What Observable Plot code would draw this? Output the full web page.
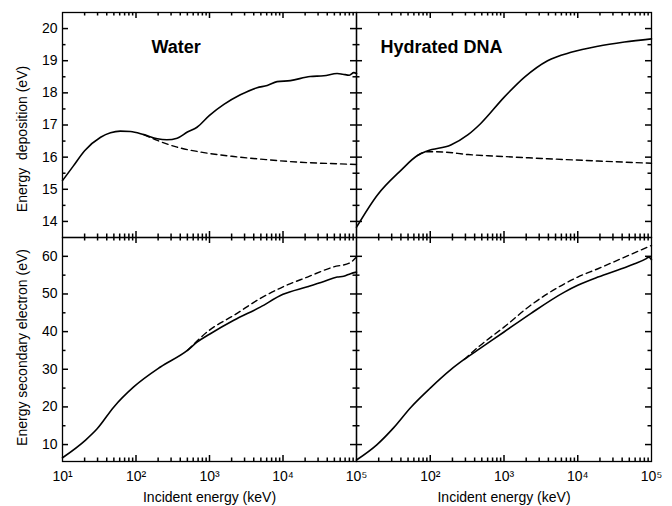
<!DOCTYPE html>
<html>
<head>
<meta charset="utf-8">
<script src="https://cdn.jsdelivr.net/npm/d3@7"></script>
<script src="https://cdn.jsdelivr.net/npm/@observablehq/plot@0.6"></script>
<style>
  body { margin: 0; background: #fff; }
  #chart { position: relative; width: 672px; height: 506px; background: #fff; font-family: "Liberation Sans", Arial, sans-serif; }
  #chart svg { position: absolute; left: 0; top: 0; }
</style>
</head>
<body>
<div id="chart"></div>
<script>
// ---------- Data ----------
// Water – energy deposition (eV)
const waterDepSolidX = [10, 14, 20, 33, 45, 61, 84, 128, 195, 263, 363, 500, 676, 1000, 1570, 2630, 4440, 6100, 8300, 12600, 23400, 35900, 54500, 65000, 80000, 92000, 100000];
const waterDepSolidY = [15.27, 15.72, 16.2, 16.62, 16.76, 16.81, 16.8, 16.70, 16.57, 16.54, 16.59, 16.78, 16.93, 17.30, 17.64, 17.94, 18.16, 18.23, 18.35, 18.38, 18.51, 18.53, 18.60, 18.58, 18.55, 18.63, 18.60];
const waterDepDashX = [128, 195, 363, 750, 2140, 6100, 17400, 60000, 100000];
const waterDepDashY = [16.70, 16.52, 16.31, 16.16, 16.02, 15.92, 15.84, 15.79, 15.77];
// Hydrated DNA – energy deposition (eV)
const dnaDepSolidX = [10, 19, 40, 67, 91, 190, 326, 480, 1000, 1900, 3900, 8100, 18800, 43000, 100000];
const dnaDepSolidY = [13.82, 14.81, 15.59, 16.05, 16.19, 16.38, 16.70, 17.04, 17.86, 18.49, 19.0, 19.26, 19.45, 19.58, 19.68];
const dnaDepDashX = [67, 91, 150, 326, 810, 3900, 18800, 100000];
const dnaDepDashY = [16.05, 16.17, 16.16, 16.08, 16.03, 15.95, 15.88, 15.81];
// Water – energy of secondary electron (eV)
const waterSecSolidX = [10, 20.6, 29.6, 50, 93, 215, 500, 676, 1000, 2140, 4900, 10000, 21500, 36000, 54600, 67000, 83000, 100000];
const waterSecSolidY = [6.5, 11.2, 14.2, 20.0, 25.3, 30.6, 35.0, 37.2, 39.3, 43.0, 46.5, 49.9, 51.9, 53.3, 54.5, 54.7, 55.4, 55.8];
const waterSecDashX = [500, 1000, 2140, 4900, 10000, 21500, 49000, 80000, 100000];
const waterSecDashY = [35.0, 40.4, 44.3, 48.8, 51.9, 54.5, 57.2, 58.2, 59.8];
// Hydrated DNA – energy of secondary electron (eV)
const dnaSecSolidX = [10, 19, 32, 54, 100, 190, 288, 480, 1000, 2300, 6600, 10000, 18800, 39000, 59000, 85000, 92000, 100000];
const dnaSecSolidY = [5.9, 10.0, 14.5, 19.8, 25.0, 29.9, 32.6, 35.6, 39.9, 44.8, 50.5, 52.3, 54.5, 56.7, 58.0, 59.4, 59.8, 59.1];
const dnaSecDashX = [288, 480, 1000, 2300, 6600, 10000, 18800, 39000, 100000];
const dnaSecDashY = [32.6, 36.4, 41.2, 47.0, 52.7, 54.5, 56.7, 59.4, 62.9];

// Axis ticks and labels
const xDecades = [10, 100, 1000, 10000, 100000];
const xMinor = [2, 3, 4, 5, 6, 7, 8, 9];
const depMajor = [14, 15, 16, 17, 18, 19, 20];
const depMinor = [14.5, 15.5, 16.5, 17.5, 18.5, 19.5];
const secMajor = [10, 20, 30, 40, 50, 60];
const secMinor = [15, 25, 35, 45, 55];
const titles = ["Water", "Hydrated DNA"];
const yLabels = ["Energy  deposition (eV)", "Energy secondary electron (eV)"];
const xLabel = "Incident energy (keV)";

// ---------- Helpers ----------
const zip = (xs, ys) => xs.map((x, i) => ({x, y: ys[i]}));
const sup = {1: "\u00B9", 2: "\u00B2", 3: "\u00B3", 4: "\u2074", 5: "\u2075"};
const fmtPow = d => "10" + sup[Math.round(Math.log10(d))];
const minorX = xDecades.slice(0, -1).flatMap(d => xMinor.map(k => d * k));
const innerDecades = xDecades.slice(1, -1);

const W = 672, H = 506;
const xL = [62, 356, 651];
const yT = [12, 237, 461];
const FONT = "'Liberation Sans', Arial, sans-serif";

// inward tick marks drawn with tickX / tickY, shortened to a few pixels by insets
function inTicks(values, side, len, pw, ph) {
  const o = {stroke: "black", strokeWidth: 1.5};
  if (side === "left") return Plot.tickY(values, {y: d => d, insetRight: pw - len, ...o});
  if (side === "right") return Plot.tickY(values, {y: d => d, insetLeft: pw - len, ...o});
  if (side === "bottom") return Plot.tickX(values, {x: d => d, insetTop: ph - len, ...o});
  return Plot.tickX(values, {x: d => d, insetBottom: ph - len, ...o});
}

function panel({col, row, solid, dashed, yDomain, yMajor, yMinor, title}) {
  const x0 = xL[col], x1 = xL[col + 1], y0 = yT[row], y1 = yT[row + 1];
  const pw = x1 - x0, ph = y1 - y0;
  const marks = [
    Plot.line(dashed, {x: "x", y: "y", stroke: "black", strokeWidth: 1.4, strokeDasharray: "6,4", curve: "monotone-x"}),
    Plot.line(solid, {x: "x", y: "y", stroke: "black", strokeWidth: 1.6, curve: "monotone-x"}),
    Plot.frame({stroke: "black", strokeWidth: 1.3}),
    inTicks(yMajor, "left", 6, pw, ph), inTicks(yMinor, "left", 3.5, pw, ph),
    inTicks(yMajor, "right", 6, pw, ph), inTicks(yMinor, "right", 3.5, pw, ph),
    inTicks(innerDecades, "bottom", 6, pw, ph), inTicks(minorX, "bottom", 3.5, pw, ph),
    inTicks(innerDecades, "top", 6, pw, ph), inTicks(minorX, "top", 3.5, pw, ph)
  ];
  if (col === 0) {
    marks.push(Plot.axisY({ticks: yMajor, tickSize: 0, tickPadding: 5, tickFormat: d => String(d), fontSize: 14, label: null}));
    marks.push(Plot.text([yLabels[row]], {text: d => d, frameAnchor: "left", textAnchor: "middle", lineAnchor: "middle", dx: -40, dy: row === 0 ? 14 : -2, rotate: -90, fontSize: 14, fill: "black"}));
  }
  if (row === 1) {
    marks.push(Plot.axisX({ticks: col === 0 ? xDecades : xDecades.slice(1), tickSize: 0, tickPadding: 10, tickFormat: fmtPow, fontSize: 14, label: null}));
    marks.push(Plot.text([xLabel], {text: d => d, frameAnchor: "bottom", textAnchor: "middle", lineAnchor: "middle", dy: 36, fontSize: 14, fill: "black"}));
  }
  if (title) {
    marks.push(Plot.text([title], {text: d => d, frameAnchor: "top-left", textAnchor: "start", lineAnchor: "middle", dx: col === 0 ? 89 : 24, dy: 35, fontSize: 18, fontWeight: "bold", fill: "black"}));
  }
  return Plot.plot({
    width: W, height: H,
    marginLeft: x0, marginRight: W - x1, marginTop: y0, marginBottom: H - y1,
    x: {type: "log", domain: [10, 100000], axis: row === 1 ? undefined : null},
    y: {domain: yDomain, axis: col === 0 ? undefined : null},
    style: {background: "transparent", color: "black", fontFamily: FONT, overflow: "visible"},
    marks
  });
}

const chart = document.getElementById("chart");
const specs = [
  {col: 0, row: 0, solid: zip(waterDepSolidX, waterDepSolidY), dashed: zip(waterDepDashX, waterDepDashY), yDomain: [13.5, 20.5], yMajor: depMajor, yMinor: depMinor, title: titles[0]},
  {col: 1, row: 0, solid: zip(dnaDepSolidX, dnaDepSolidY), dashed: zip(dnaDepDashX, dnaDepDashY), yDomain: [13.5, 20.5], yMajor: depMajor, yMinor: depMinor, title: titles[1]},
  {col: 0, row: 1, solid: zip(waterSecSolidX, waterSecSolidY), dashed: zip(waterSecDashX, waterSecDashY), yDomain: [5.5, 65], yMajor: secMajor, yMinor: secMinor},
  {col: 1, row: 1, solid: zip(dnaSecSolidX, dnaSecSolidY), dashed: zip(dnaSecDashX, dnaSecDashY), yDomain: [5.5, 65], yMajor: secMajor, yMinor: secMinor}
];
for (const s of specs) chart.appendChild(panel(s));
</script>
</body>
</html>
